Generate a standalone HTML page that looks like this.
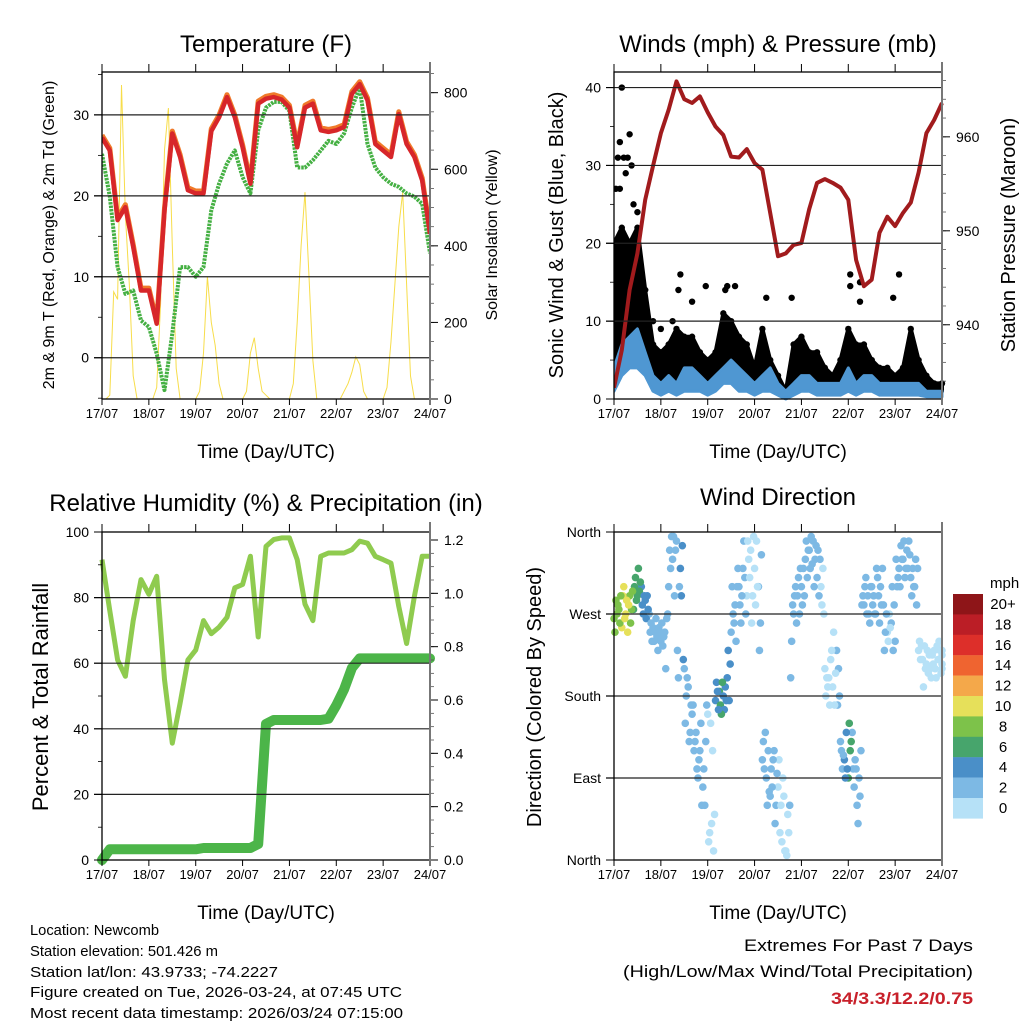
<!DOCTYPE html>
<html><head><meta charset="utf-8"><style>
html,body{margin:0;padding:0;background:#fff;}
svg{display:block;font-family:"Liberation Sans",Arial,sans-serif;}
</style></head><body>
<svg id="chart" width="1024" height="1024" viewBox="0 0 1024 1024" xmlns="http://www.w3.org/2000/svg">
<rect x="0" y="0" width="1024" height="1024" fill="#fff"/>
<g id="layer"></g>
<g font-size="24" fill="#000" text-anchor="middle">
<text x="266" y="52">Temperature (F)</text>
<text x="778" y="52">Winds (mph) &amp; Pressure (mb)</text>
<text x="266" y="511">Relative Humidity (%) &amp; Precipitation (in)</text>
<text x="778" y="505">Wind Direction</text>
</g>
<g font-size="19" text-anchor="middle">
<text x="266" y="458">Time (Day/UTC)</text>
<text x="778" y="458">Time (Day/UTC)</text>
<text x="266" y="919">Time (Day/UTC)</text>
<text x="778" y="919">Time (Day/UTC)</text>
<text transform="translate(54,235) rotate(-90)" font-size="16">2m &amp; 9m T (Red, Orange) &amp; 2m Td (Green)</text>
<text transform="translate(497,235) rotate(-90)" font-size="16">Solar Insolation (Yellow)</text>
<text transform="translate(563,235) rotate(-90)" font-size="20">Sonic Wind &amp; Gust (Blue, Black)</text>
<text transform="translate(1015,235) rotate(-90)" font-size="20">Station Pressure (Maroon)</text>
<text transform="translate(48,697) rotate(-90)" font-size="22">Percent &amp; Total Rainfall</text>
<text transform="translate(541,697) rotate(-90)" font-size="20">Direction (Colored By Speed)</text>
</g>
<g font-size="15">
<text x="30" y="935" textLength="129" lengthAdjust="spacingAndGlyphs">Location: Newcomb</text>
<text x="30" y="956" textLength="188" lengthAdjust="spacingAndGlyphs">Station elevation: 501.426 m</text>
<text x="30" y="977" textLength="248" lengthAdjust="spacingAndGlyphs">Station lat/lon: 43.9733; -74.2227</text>
<text x="30" y="997" textLength="372" lengthAdjust="spacingAndGlyphs">Figure created on Tue, 2026-03-24, at 07:45 UTC</text>
<text x="30" y="1018" textLength="373" lengthAdjust="spacingAndGlyphs">Most recent data timestamp: 2026/03/24 07:15:00</text>
<text x="973" y="951" text-anchor="end" font-size="17" textLength="229" lengthAdjust="spacingAndGlyphs">Extremes For Past 7 Days</text>
<text x="973" y="977" text-anchor="end" font-size="17" textLength="350" lengthAdjust="spacingAndGlyphs">(High/Low/Max Wind/Total Precipitation)</text>
<text x="973" y="1004" text-anchor="end" font-size="17" font-weight="bold" fill="#c8202a" textLength="142" lengthAdjust="spacingAndGlyphs">34/3.3/12.2/0.75</text>
</g>
</svg>
<script>
// ---- data (t = hours since 17/07 00 UTC) ----
const dayLabels = ["17/07","18/07","19/07","20/07","21/07","22/07","23/07","24/07"];
const temp4h = [27.2,25.6,17.0,18.6,13.7,8.3,8.3,4.2,18.2,27.7,24.8,20.7,20.3,20.3,28,29.7,32.2,29.7,26,21.5,31.4,32,32.2,31.9,30.9,26,30.9,31.4,28.1,27.9,28.1,28.5,32.6,33.8,31.8,26.4,25.6,24.8,30.1,26.4,24.8,21.9,15.3];
const dew4h = [25.2,19.9,11.2,7.9,8.3,4.6,3.8,0.5,-4,3,11.2,11.2,10,11.2,18.2,21.5,24,25.6,22.3,20.3,28.1,30.9,31.6,31.6,30.5,23.5,23.5,24.4,25.6,26.8,26.4,27.7,30.9,33.4,26.4,23.5,22.3,21.5,21.1,20.3,19.9,19,12.9];
const solar2h = [0,0,10,280,260,820,480,300,60,0,0,0,0,0,30,250,650,760,400,80,0,0,0,0,0,20,120,320,200,140,40,0,0,0,0,0,0,20,120,160,80,20,10,0,0,0,0,0,0,40,200,400,540,320,100,0,0,0,0,0,0,0,20,40,70,110,90,20,0,0,0,0,0,30,150,300,450,540,300,60,0,0,0,0,0];
const pressure4h = [933.3,937.3,943.7,947.6,953.3,956.9,960.4,962.9,965.9,964,963.6,964.3,962.6,961.1,960.2,957.9,957.8,958.7,957.2,956.5,951.9,947.3,947.6,948.5,948.7,952.3,955.1,955.5,955.1,954.6,953.3,946.9,944.1,944.8,949.8,951.5,950.5,951.9,953,956.2,960.4,961.8,963.6];
const wind4h = [4,7,8,9,6,3,2,3,2,4,4,3,2,3,4,5,4,3,2,3,4,2,1,2,3,3,2,2,2,2,4,2,3,3,2,2,2,2,2,2,1,1,1];
const windLow4h = [1,3,4,4,3,1,0.5,1,0.5,1,1,1,0.5,1,2,2,1,1,0.5,1,1,0.5,0,0.5,1,1,0.5,0.5,0.5,0.5,1,0.5,1,1,0.5,0.5,0.5,0.5,0.5,0.5,0.3,0.3,0.3];
const gust4h = [20,22,20,22,14,7,6,7,9,8,8,6,5,6,11,10,8,7,4,9,5,3,1,7,8,6,6,4,3,5,9,7,7,5,4,4,3,4,9,5,3,2,2];
const gustPeakT = [4,2,3,5,8,7,6,1,3,9,34,33,40,47,57,58,62,78,91,121,121,126,126,146,143,10,12,20,24,30];
const gustPeakV = [40,31,33,31,34,31,29,27,27,30,16,14,12.5,14.5,14,14.5,14.5,13,13,16,14.5,15,12.5,16,13,25,24,10,9,10];
const rh4h = [91.6,76,61,56,73,85.5,81,86.5,55,35.6,47.8,61,64,73,69,71,74,83,84,92.6,68,95.6,97.7,98.2,98.2,91.6,78,73,92.6,93.6,93.6,93.6,94.6,97.2,96.6,92.6,91.6,90.5,77.3,66,80.4,92.6,92.6];
const precip4h = [0,0.04,0.04,0.04,0.04,0.04,0.04,0.04,0.04,0.04,0.04,0.04,0.04,0.045,0.045,0.045,0.045,0.045,0.045,0.045,0.06,0.51,0.525,0.525,0.525,0.525,0.525,0.525,0.525,0.53,0.58,0.64,0.72,0.756,0.756,0.756,0.756,0.756,0.756,0.756,0.756,0.756,0.756];
const dirA2h = [265,280,255,270,290,275,290,300,285,270,255,245,240,250,300,330,350,320,210,190,160,140,120,100,160,40,175,185,180,200,250,280,300,320,290,340,320,300,110,90,70,120,80,20,10,60,270,290,300,330,340,350,310,300,210,200,190,230,130,110,90,140,100,70,280,290,300,270,260,280,250,260,240,320,330,340,310,300,230,220,215,210,230,220,225];
const dirB2h = [250,275,290,285,260,300,320,280,265,250,240,230,260,210,340,355,230,290,150,130,170,100,150,60,20,120,195,170,165,230,300,240,280,350,350,260,280,230,130,60,100,40,110,90,5,200,290,310,280,350,320,300,340,280,180,170,250,170,120,90,150,100,60,120,300,270,280,320,300,230,240,300,330,300,350,320,290,330,240,190,230,200,210,240,215];
const dirC2h = [285,260,300,250,275,310,295,270,290,260,250,255,235,265,320,290,200,345,180,140,120,90,60,130,30,10,185,160,190,175,270,300,260,310,330,290,350,260,100,120,80,60,30,70,50,240,300,270,320,310,355,330,290,320,200,220,170,210,100,140,120,80,40,280,310,260,290,310,280,250,270,230,300,345,310,350,320,280,220,235,205,225,200,230,210];
const dirD2h = [270,290,265,280,295,285,305,290,275,240,265,250,245,270,355,340,300,220,200,170,130,110,80,170,150,50,165,195,175,215,260,320,290,270,310,355,300,335,140,75,110,95,60,10,30,280,260,320,290,340,325,345,330,270,190,230,205,180,115,100,130,110,90,290,270,300,270,290,320,270,255,280,310,330,320,335,300,320,235,210,225,215,235,205,230];
const speed2h = [8,9,10,11,8,7,6,4,5,3,3,2,2,2,3,2,3,4,3,3,3,2,2,2,1,1,5,7,5,4,3,2,3,2,1,1,1,2,3,3,2,2,1,1,1,2,3,2,2,2,3,2,2,1,1,1,1,2,3,4,6,3,3,2,2,3,2,2,2,2,1,2,2,2,2,2,2,2,1,1,1,1,1,1,1];
const legendLabels = ["20+","18","16","14","12","10","8","6","4","2","0"];
const legendColors = ["#8e1518","#bb1e26","#dd2f2a","#ef6430","#f4a84a","#e6e05a","#7dc24a","#47a56c","#4a8fc8","#7db9e4","#b6e1f7"];

// ---- helpers ----
const NS = "http://www.w3.org/2000/svg";
const layer = document.getElementById("layer");
function mk(tag, attrs, parent){
  const e = document.createElementNS(NS, tag);
  for (const k in attrs) e.setAttribute(k, attrs[k]);
  (parent||layer).appendChild(e);
  return e;
}
function lin(d0,d1,r0,r1){ return v => r0 + (v-d0)/(d1-d0)*(r1-r0); }

const panels = {
  temp:{x0:102,x1:430,y0:72,y1:399},
  wind:{x0:614,x1:942,y0:72,y1:399},
  rh:{x0:102,x1:430,y0:532,y1:860},
  dir:{x0:614,x1:942,y0:532,y1:860}
};
function xScale(p){ return lin(0,168,p.x0,p.x1); }

function frame(p, name, yS, grid, leftMajor, leftMinor, leftFmt, rS, rMajor, rMinor, rFmt){
  const g = mk("g",{});
  
  
  grid.forEach(v=>{
    const l = mk("line",{x1:p.x0-8,x2:p.x1,y1:yS(v),y2:yS(v),stroke:"#222","stroke-width":1.2},g);
    
    
  });
  for (let d=0; d<=7; d++){
    const x = p.x0 + d*(p.x1-p.x0)/7;
    mk("line",{x1:x,x2:x,y1:p.y0-8,y2:p.y0,stroke:"#000","stroke-width":1},g);
    mk("line",{x1:x,x2:x,y1:p.y1,y2:p.y1+6,stroke:"#000","stroke-width":1},g);
    const t = mk("text",{x:x,y:p.y1+19,"font-size":13,"text-anchor":"middle"},g);
    t.textContent = dayLabels[d];
    
    
  }
  leftMinor.forEach(v=>{ mk("line",{x1:p.x0-4,x2:p.x0,y1:yS(v),y2:yS(v),stroke:"#000","stroke-width":0.8},g); });
  leftMajor.forEach((v,i)=>{
    mk("line",{x1:p.x0-8,x2:p.x0,y1:yS(v),y2:yS(v),stroke:"#000","stroke-width":1},g);
    const t = mk("text",{x:p.x0-13,y:yS(v)+5,"font-size":14,"text-anchor":"end"},g);
    t.textContent = leftFmt[i];
    
    
  });
  if (rS){
    rMinor.forEach(v=>{ mk("line",{x1:p.x1,x2:p.x1+4,y1:rS(v),y2:rS(v),stroke:"#555","stroke-width":0.8},g); });
    rMajor.forEach((v,i)=>{
      mk("line",{x1:p.x1,x2:p.x1+8,y1:rS(v),y2:rS(v),stroke:"#000","stroke-width":1},g);
      const t = mk("text",{x:p.x1+14,y:rS(v)+5,"font-size":14,"text-anchor":"start"},g);
      t.textContent = rFmt[i];
      
      
    });
  }
  const b = mk("rect",{x:p.x0,y:p.y0,width:p.x1-p.x0,height:p.y1-p.y0,fill:"none",stroke:"#000","stroke-width":1.3},g);
  
  
  mk("line",{x1:p.x1,x2:p.x1,y1:p.y0-10,y2:p.y1+6,stroke:"#777","stroke-width":2},g);
}
function pathFrom(ts, vs, xS, yS){
  return ts.map((t,i)=>(i?"L":"M")+xS(t).toFixed(1)+","+yS(vs[i]).toFixed(1)).join("");
}
const t4 = temp4h.map((_,i)=>i*4);
const t2 = solar2h.map((_,i)=>i*2);
function range(a,b,s){ const r=[]; for(let v=a; v<=b+1e-9; v+=s) r.push(+v.toFixed(4)); return r; }

// ---- Panel 1: temperature ----
(function(){
  const p = panels.temp, xS = xScale(p);
  const yS = lin(-5.1,35.3,p.y1,p.y0), sS = lin(0,854,p.y1,p.y0);
  const clip = mk("clipPath",{id:"c1"}); mk("rect",{x:p.x0,y:p.y0,width:p.x1-p.x0,height:p.y1-p.y0},clip);
  const g = mk("g",{"clip-path":"url(#c1)"});
  const s = mk("path",{d:pathFrom(t2,solar2h,xS,sS),fill:"none",stroke:"#f7dd4a","stroke-width":1},g);
  
  
  const dp = mk("path",{d:pathFrom(t4,dew4h,xS,yS),fill:"none",stroke:"#45b043","stroke-width":4,"stroke-dasharray":"2.5 1","stroke-linejoin":"round"},g);
  
  
  const o = mk("path",{d:pathFrom(t4,temp4h.map(v=>v+0.3),xS,yS),fill:"none",stroke:"#f07a2a","stroke-width":5,"stroke-linejoin":"round"},g);
  
  
  const r = mk("path",{d:pathFrom(t4,temp4h,xS,yS),fill:"none",stroke:"#d7262a","stroke-width":4.5,"stroke-linejoin":"round"},g);
  
  
  frame(p,"temp",yS,[0,10,20,30],[0,10,20,30],[-5,5,15,25,35],["0","10","20","30"],
        sS,[0,200,400,600,800],range(0,850,50),["0","200","400","600","800"]);
})();

// ---- Panel 2: winds & pressure ----
(function(){
  const p = panels.wind, xS = xScale(p);
  const yS = lin(0,42,p.y1,p.y0), pS = lin(932.1,966.9,p.y1,p.y0);
  const clip = mk("clipPath",{id:"c2"}); mk("rect",{x:p.x0,y:p.y0-4,width:p.x1-p.x0+4,height:p.y1-p.y0+8},clip);
  const g = mk("g",{"clip-path":"url(#c2)"});
  let d = pathFrom(t4,gust4h,xS,yS) + pathFrom(t4.slice().reverse(),wind4h.slice().reverse(),xS,yS).replace("M","L") + "Z";
  const band = mk("path",{d:d,fill:"#000",stroke:"#000","stroke-width":4,"stroke-linejoin":"round"},g);
  
  
  gust4h.forEach((v,i)=>{
    const c = mk("circle",{cx:xS(t4[i]),cy:yS(v),r:3.2,fill:"#000"},g);
    
    
  });
  gustPeakT.forEach((t,i)=>{
    const c = mk("circle",{cx:xS(t),cy:yS(gustPeakV[i]),r:3.2,fill:"#000"},g);
    
    
  });
  let wd = pathFrom(t4,wind4h,xS,yS) + pathFrom(t4.slice().reverse(),windLow4h.slice().reverse(),xS,yS).replace("M","L") + "Z";
  const w = mk("path",{d:wd,fill:"#4f97d2",stroke:"#4f97d2","stroke-width":3,"stroke-linejoin":"round"},g);
  
  
  const pr = mk("path",{d:pathFrom(t4,pressure4h,xS,pS),fill:"none",stroke:"#a11b1d","stroke-width":4,"stroke-linejoin":"round"},g);
  
  
  frame(p,"wind",yS,[10,20,30,40],[0,10,20,30,40],[5,15,25,35],["0","10","20","30","40"],
        pS,[940,950,960],range(934,966,2),["940","950","960"]);
})();

// ---- Panel 3: RH & precip ----
(function(){
  const p = panels.rh, xS = xScale(p);
  const yS = lin(0,100,p.y1,p.y0), rS = lin(0,1.23,p.y1,p.y0);
  const clip = mk("clipPath",{id:"c3"}); mk("rect",{x:p.x0-8,y:p.y0,width:p.x1-p.x0+16,height:p.y1-p.y0+8},clip);
  const g = mk("g",{"clip-path":"url(#c3)"});
  const rh = mk("path",{d:pathFrom(t4,rh4h,xS,yS),fill:"none",stroke:"#8fcb4f","stroke-width":5,"stroke-linejoin":"round"},g);
  
  
  const pc = mk("path",{d:pathFrom(t4,precip4h,xS,rS),fill:"none",stroke:"#4cb549","stroke-width":10,"stroke-linejoin":"round","stroke-linecap":"round"},g);
  
  
  frame(p,"rh",yS,[20,40,60,80],[0,20,40,60,80,100],[10,30,50,70,90],["0","20","40","60","80","100"],
        rS,[0,0.2,0.4,0.6,0.8,1.0,1.2],range(0,1.2,0.05),["0.0","0.2","0.4","0.6","0.8","1.0","1.2"]);
})();

// ---- Panel 4: wind direction ----
(function(){
  const p = panels.dir, xS = xScale(p);
  const yS = lin(0,360,p.y1,p.y0);
  function col(s){ return legendColors[10 - Math.min(10, Math.floor(s/2))]; }
  const g = mk("g",{});
  frame(p,"dir",yS,[90,180,270],[0,90,180,270,360],[],["North","East","South","West","North"],null);
  [dirA2h, dirB2h, dirC2h, dirD2h].forEach((arr,k)=>{
    arr.forEach((v,i)=>{
      const c = mk("circle",{cx:Math.min(p.x1,xS(t2[i]+k*0.5)),cy:yS(v),r:3.8,fill:col(speed2h[i])},g);
      
      
    });
  });
  const lg = mk("g",{});
  
  
  const lt = mk("text",{x:990,y:588,"font-size":15,"text-anchor":"start"},lg);
  lt.textContent = "mph";
  
  
  legendColors.forEach((c,i)=>{
    const r = mk("rect",{x:953,y:594+i*20.4,width:30,height:20.6,fill:c},lg);
    
    
    const t = mk("text",{x:1003,y:594+i*20.4+15,"font-size":15,"text-anchor":"middle"},lg);
    t.textContent = legendLabels[i];
    
    
  });
})();
</script>
</body></html>
